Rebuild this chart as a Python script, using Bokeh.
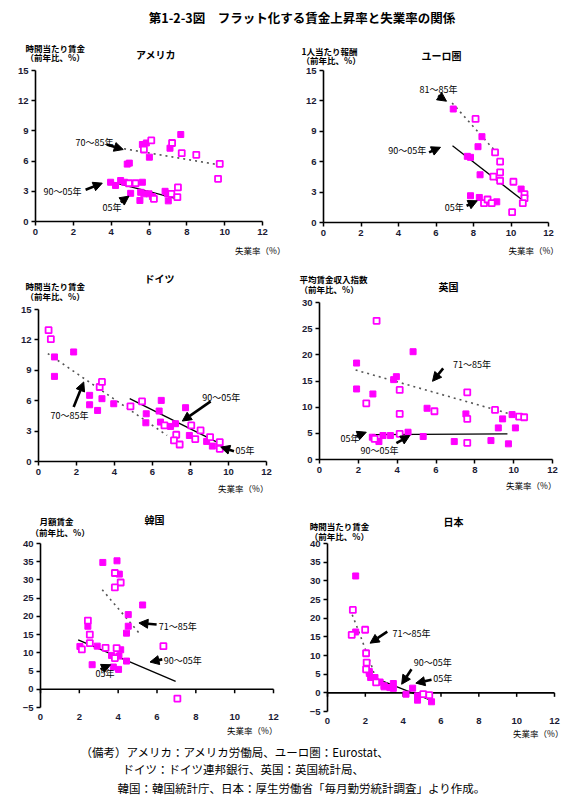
from bokeh.plotting import figure
from bokeh.models import Range1d, FixedTicker, Label, Arrow, NormalHead
from bokeh.layouts import column, row
from bokeh.embed import file_html
from bokeh.resources import INLINE

JP = "Noto Sans CJK JP"
NUM = "Liberation Sans"
MAG = "#FF00FF"

# ---------------- data ----------------
X_TICKS = [0, 2, 4, 6, 8, 10, 12]
Y_TICKS_15 = [0, 3, 6, 9, 12, 15]
Y_TICKS_30 = [0, 5, 10, 15, 20, 25, 30]
Y_TICKS_40 = [-5, 0, 5, 10, 15, 20, 25, 30, 35, 40]

# アメリカ
us_fill_x = [5.65, 5.86, 7.11, 7.68, 6.02, 4.96, 4.85, 3.97, 4.23, 4.5, 4.71, 5.65, 5.03, 5.56, 5.73, 6.0, 5.52, 6.18, 6.85, 6.97, 7.02]
us_fill_y = [7.65, 7.8, 7.28, 8.64, 6.39, 5.8, 5.7, 3.9, 3.58, 4.07, 3.9, 3.9, 2.8, 2.9, 2.75, 2.75, 2.09, 2.48, 3.0, 2.75, 2.05]
us_hol_x = [6.12, 7.22, 7.73, 8.5, 5.73, 9.74, 9.65, 4.94, 5.29, 6.26, 7.18, 7.53, 7.5]
us_hol_y = [8.05, 7.8, 6.79, 6.62, 7.15, 5.73, 4.24, 3.8, 3.8, 2.25, 2.75, 3.38, 2.42]
us_old_x = [4.68, 9.79]
us_old_y = [7.22, 5.6]
us_new_x = [3.97, 7.5]
us_new_y = [3.97, 2.25]

# ユーロ圏
eu_fill_x = [6.92, 8.45, 8.24, 7.67, 7.84, 8.35, 10.54, 7.84, 8.31, 9.24]
eu_fill_y = [11.2, 8.47, 7.48, 6.53, 6.43, 4.71, 3.3, 2.64, 2.47, 2.04]
eu_hol_x = [8.11, 9.15, 9.42, 9.42, 9.42, 9.06, 10.13, 10.72, 10.72, 10.63, 10.06, 8.56, 8.75, 8.97]
eu_hol_y = [10.22, 6.92, 6.0, 4.95, 4.12, 4.52, 4.02, 2.8, 2.4, 1.91, 1.02, 1.91, 2.27, 1.91]
eu_old_x = [6.86, 9.33]
eu_old_y = [11.8, 6.69]
eu_new_x = [6.88, 10.66]
eu_new_y = [7.58, 2.14]

# ドイツ
de_fill_x = [0.84, 0.84, 1.85, 2.69, 2.69, 3.11, 3.34, 3.96, 5.67, 5.65, 6.46, 6.35, 6.42, 6.95, 7.21, 7.74, 7.94, 8.85, 9.15]
de_fill_y = [10.32, 8.4, 10.81, 6.53, 5.6, 5.04, 6.2, 5.7, 4.71, 3.82, 6.03, 4.98, 3.89, 3.46, 3.73, 5.31, 2.57, 1.98, 1.52]
de_hol_x = [0.53, 0.65, 3.22, 3.34, 4.84, 5.45, 6.63, 7.25, 7.13, 7.43, 8.04, 8.25, 8.53, 9.03, 9.54, 9.54]
de_hol_y = [12.96, 12.07, 7.35, 7.85, 5.44, 5.93, 3.56, 2.64, 2.08, 1.68, 3.56, 2.21, 3.07, 2.41, 1.91, 1.25]
de_old_x = [0.49, 6.77]
de_old_y = [10.65, 2.57]
de_new_x = [4.8, 9.5]
de_new_y = [6.2, 1.81]

# 英国
uk_fill_x = [1.91, 1.91, 2.75, 2.72, 3.06, 3.27, 3.65, 3.82, 3.96, 4.56, 4.82, 5.34, 5.54, 6.94, 7.54, 8.83, 9.21, 9.43, 9.92, 9.73, 10.09]
uk_fill_y = [18.43, 13.48, 12.52, 4.26, 3.43, 4.58, 4.58, 15.26, 15.83, 5.21, 20.6, 4.39, 9.79, 3.43, 8.71, 3.62, 6.04, 7.76, 8.58, 2.99, 6.04]
uk_hol_x = [2.41, 2.94, 2.84, 4.13, 4.13, 4.13, 5.92, 7.61, 7.61, 7.61, 9.04, 10.28, 10.54]
uk_hol_y = [10.74, 26.5, 3.94, 13.29, 8.71, 4.9, 9.22, 12.84, 7.76, 3.18, 9.47, 8.2, 8.07]
uk_old_x = [1.86, 9.81]
uk_old_y = [17.1, 8.71]
uk_new_x = [2.72, 9.68]
uk_new_y = [4.75, 4.9]

# 韓国
kr_fill_x = [3.21, 3.94, 4.06, 5.26, 4.52, 4.52, 4.43, 2.44, 2.03, 2.92, 4.13, 3.66, 4.04, 4.43, 2.66, 3.75, 4.02]
kr_fill_y = [34.8, 35.25, 31.6, 23.13, 20.49, 17.3, 15.4, 17.3, 11.75, 11.84, 10.84, 9.29, 9.1, 7.74, 6.74, 6.1, 5.46]
kr_hol_x = [3.83, 4.13, 3.83, 2.44, 2.54, 2.54, 2.13, 3.35, 3.92, 6.33, 3.83, 7.05]
kr_hol_y = [31.9, 29.3, 27.96, 18.85, 15.0, 12.66, 10.93, 11.38, 11.3, 11.84, 8.56, -2.55]
kr_old_x = [3.18, 5.07]
kr_old_y = [27.3, 15.48]
kr_new_x = [1.94, 6.96]
kr_new_y = [13.57, 2.19]

# 日本
jp_fill_x = [1.49, 1.49, 2.21, 2.21, 2.28, 2.51, 2.78, 2.99, 2.99, 3.3, 3.48, 3.48, 4.5, 4.15, 4.76, 4.76, 5.5]
jp_fill_y = [31.3, 16.3, 5.7, 5.2, 4.1, 4.1, 2.9, 1.9, 1.6, 1.4, 2.5, 1.2, 1.25, -0.36, -0.8, -1.96, -2.4]
jp_hol_x = [1.34, 1.28, 1.99, 2.04, 2.07, 2.04, 2.57, 5.06, 5.38]
jp_hol_y = [22.2, 15.5, 16.9, 10.6, 8.1, 6.3, 2.8, -0.36, -0.63]
jp_old_x = [1.19, 1.54, 1.81, 2.07, 2.34, 2.51, 2.69]
jp_old_y = [22.4, 17.9, 14.3, 10.7, 7.1, 4.4, 1.4]
jp_new_x = [2.11, 5.45]
jp_new_y = [4.73, -1.96]

TITLE = "第1-2-3図　フラット化する賃金上昇率と失業率の関係"
XLABEL = "失業率（%）"
NOTE = ["（備考）アメリカ：アメリカ労働局、ユーロ圏：Eurostat、",
        "ドイツ：ドイツ連邦銀行、英国：英国統計局、",
        "韓国：韓国統計庁、日本：厚生労働省「毎月勤労統計調査」より作成。"]


def lab(p, x, y, text, size="9px", bold=False, align="left"):
    p.add_layout(Label(x=x, y=y, text=text, text_font=JP, text_font_size=size,
                       text_font_style="bold" if bold else "normal",
                       text_align=align, text_baseline="middle", text_color="black"))


def arrow(p, x0, y0, x1, y1):
    p.add_layout(Arrow(end=NormalHead(size=9, fill_color="black", line_color="black", line_width=1),
                       x_start=x0, y_start=y0, x_end=x1, y_end=y1,
                       line_width=2.6, line_color="black"))


def style_axis(ax):
    ax.axis_line_width = 1.6
    ax.axis_line_color = "black"
    ax.major_tick_line_width = 1.5
    ax.major_tick_line_color = "black"
    ax.major_tick_out = 4
    ax.major_tick_in = 0
    ax.minor_tick_line_color = None
    ax.major_label_text_font = NUM
    ax.major_label_text_font_size = "9.5px"
    ax.major_label_text_font_style = "bold"
    ax.major_label_text_color = "#1a1a33"
    ax.major_label_standoff = 3


def panel(w, h, bl, br, bt, bb, yr, yticks, fx, fy, hx, hy, ox, oy, nx, ny, zero_axis=False):
    # the frame covers the whole figure; axes are pinned at data locations
    ppx = (w - bl - br) / (X_TICKS[-1] - X_TICKS[0])
    ppy = (h - bt - bb) / (yr[1] - yr[0])
    xr = Range1d(X_TICKS[0] - bl / ppx, X_TICKS[-1] + br / ppx)
    yrng = Range1d(yr[0] - bb / ppy, yr[1] + bt / ppy)
    p = figure(width=w, height=h, x_range=xr, y_range=yrng,
               output_backend="svg", toolbar_location=None, min_border=0)
    p.grid.visible = False
    p.outline_line_color = None
    p.xaxis.ticker = FixedTicker(ticks=X_TICKS)
    p.yaxis.ticker = FixedTicker(ticks=yticks)
    for ax in p.axis:
        style_axis(ax)
    p.xaxis.bounds = (X_TICKS[0], X_TICKS[-1])
    p.yaxis.bounds = (yr[0], yr[1])
    p.yaxis.fixed_location = X_TICKS[0]
    p.xaxis.fixed_location = yr[0]
    if zero_axis:
        p.xaxis.axis_line_color = None
        p.xaxis.major_tick_line_color = None
        p.xaxis.major_tick_out = 0
        p.xaxis.major_label_standoff = 6
        tl = 4 / ppy
        p.line(x=[X_TICKS[0], X_TICKS[-1]], y=[0, 0], line_color="black", line_width=1.6)
        p.segment(x0=X_TICKS, y0=[0] * len(X_TICKS), x1=X_TICKS, y1=[-tl] * len(X_TICKS),
                  line_color="black", line_width=1.5)
    p.line(ox, oy, line_color="#555555", line_width=1.6, line_dash="2 4")
    p.line(nx, ny, line_color="black", line_width=1.3)
    p.scatter(fx, fy, marker="square", size=6, fill_color=MAG, line_color=MAG, line_width=1)
    p.scatter(hx, hy, marker="square", size=6, fill_color="white", line_color=MAG, line_width=1.8)
    return p


# title
t = figure(width=571, height=40, x_range=Range1d(0, 571), y_range=Range1d(0, 40),
           output_backend="svg", toolbar_location=None, min_border=0,
           x_axis_location=None, y_axis_location=None)
t.grid.visible = False
t.outline_line_color = None
lab(t, 301.5, 23, TITLE, size="12.5px", bold=True, align="center")

# アメリカ
p1 = panel(286, 228, 35, 24, 30, 47, (0, 15), Y_TICKS_15,
           us_fill_x, us_fill_y, us_hol_x, us_hol_y, us_old_x, us_old_y, us_new_x, us_new_y)
lab(p1, 6.37, 16.58, "アメリカ", size="10px", bold=True, align="center")
lab(p1, -0.53, 17.28, "時間当たり賃金", size="8.5px", bold=True)
lab(p1, -0.53, 16.39, "（前年比、%）", size="8.5px", bold=True)
lab(p1, 13.21, -2.88, XLABEL, size="8.5px", align="right")
lab(p1, 2.11, 7.88, "70～85年")
lab(p1, 0.42, 2.98, "90～05年")
lab(p1, 3.54, 1.39, "05年")
arrow(p1, 3.76, 7.65, 4.64, 7.15)
arrow(p1, 2.65, 3.15, 3.53, 3.81)
arrow(p1, 4.5, 1.92, 4.94, 2.52)

# ユーロ圏
p2 = panel(285, 228, 37, 23, 30, 46, (0, 15), Y_TICKS_15,
           eu_fill_x, eu_fill_y, eu_hol_x, eu_hol_y, eu_old_x, eu_old_y, eu_new_x, eu_new_y)
lab(p2, 6.29, 16.49, "ユーロ圏", size="10px", bold=True, align="center")
lab(p2, -1.17, 16.88, "1人当たり報酬", size="8.5px", bold=True)
lab(p2, -1.17, 15.99, "（前年比、%）", size="8.5px", bold=True)
lab(p2, 12.55, -2.76, XLABEL, size="8.5px", align="right")
lab(p2, 5.12, 13.13, "81～85年")
lab(p2, 3.45, 7.1, "90～05年")
lab(p2, 6.47, 1.51, "05年")
arrow(p2, 6.12, 12.53, 6.56, 11.97)
arrow(p2, 5.63, 6.92, 6.24, 7.42)
arrow(p2, 7.63, 1.65, 8.2, 2.14)

# ドイツ
p3 = panel(286, 237, 38, 20, 41, 44, (0, 15), Y_TICKS_15,
           de_fill_x, de_fill_y, de_hol_x, de_hol_y, de_old_x, de_old_y, de_new_x, de_new_y)
lab(p3, 6.37, 18.06, "ドイツ", size="10px", bold=True, align="center")
lab(p3, -0.68, 17.27, "時間当たり賃金", size="8.5px", bold=True)
lab(p3, -0.68, 16.29, "（前年比、%）", size="8.5px", bold=True)
lab(p3, 12.1, -2.57, XLABEL, size="8.5px", align="right")
lab(p3, 0.63, 4.54, "70～85年")
lab(p3, 8.62, 6.34, "90～05年")
lab(p3, 10.37, 1.09, "05年")
arrow(p3, 1.85, 5.37, 2.38, 7.85)
arrow(p3, 9.06, 5.93, 7.57, 3.99)
arrow(p3, 10.29, 1.02, 9.59, 1.42)

# 英国
p4 = panel(285, 237, 33, 19, 34, 46, (0, 30), Y_TICKS_30,
           uk_fill_x, uk_fill_y, uk_hol_x, uk_hol_y, uk_old_x, uk_old_y, uk_new_x, uk_new_y)
lab(p4, 6.64, 33.06, "英国", size="10px", bold=True, align="center")
lab(p4, -1.03, 34.4, "平均賃金収入指数", size="8.5px", bold=True)
lab(p4, -1.03, 32.5, "（前年比、%）", size="8.5px", bold=True)
lab(p4, 12.2, -4.78, XLABEL, size="8.5px", align="right")
lab(p4, 6.88, 18.15, "71～85年")
lab(p4, 1.08, 3.95, "05年")
lab(p4, 2.11, 1.72, "90～05年")
arrow(p4, 6.37, 17.42, 5.82, 14.94)
arrow(p4, 1.89, 4.45, 2.41, 5.21)
arrow(p4, 3.96, 3.12, 4.65, 4.58)

# 韓国
p5 = panel(286, 238, 40, 13, 38, 36, (-5, 40), Y_TICKS_40,
           kr_fill_x, kr_fill_y, kr_hol_x, kr_hol_y, kr_old_x, kr_old_y, kr_new_x, kr_new_y,
           zero_axis=True)
lab(p5, 5.87, 46.59, "韓国", size="10px", bold=True, align="center")
lab(p5, -0.05, 46.31, "月額賃金", size="8.5px", bold=True)
lab(p5, -0.51, 43.29, "（前年比、%）", size="8.5px", bold=True)
lab(p5, 12.2, -11.04, XLABEL, size="8.5px", align="right")
lab(p5, 6.09, 17.31, "71～85年")
lab(p5, 6.35, 7.89, "90～05年")
lab(p5, 2.83, 4.24, "05年")
arrow(p5, 5.98, 17.76, 5.07, 18.2)
arrow(p5, 6.27, 8.2, 5.64, 7.47)
arrow(p5, 3.09, 5.46, 3.61, 6.74)

# 日本
p6 = panel(285, 238, 41, 17, 38, 32, (-5, 40), Y_TICKS_40,
           jp_fill_x, jp_fill_y, jp_hol_x, jp_hol_y, jp_old_x, jp_old_y, jp_new_x, jp_new_y,
           zero_axis=True)
lab(p6, 6.66, 45.89, "日本", size="10px", bold=True, align="center")
lab(p6, -0.94, 44.82, "時間当たり賃金", size="8.5px", bold=True)
lab(p6, -0.94, 42.14, "（前年比、%）", size="8.5px", bold=True)
lab(p6, 12.47, -10.63, XLABEL, size="8.5px", align="right")
lab(p6, 3.44, 15.81, "71～85年")
lab(p6, 4.56, 8.2, "90～05年")
lab(p6, 5.59, 3.75, "05年")
arrow(p6, 3.16, 16.4, 2.25, 13.3)
arrow(p6, 4.44, 6.3, 3.92, 2.3)
arrow(p6, 5.5, 3.5, 4.67, 2.6)

# footnote
f = figure(width=571, height=53, x_range=Range1d(0, 571), y_range=Range1d(0, 53),
           output_backend="svg", toolbar_location=None, min_border=0,
           x_axis_location=None, y_axis_location=None)
f.grid.visible = False
f.outline_line_color = None
lab(f, 80, 45, NOTE[0], size="11.5px")
lab(f, 122, 28, NOTE[1], size="11.5px")
lab(f, 117, 9, NOTE[2], size="11.5px")

layout = column(t, row(p1, p2), row(p3, p4), row(p5, p6), f)
open("out.html", "w").write(file_html(layout, INLINE))
